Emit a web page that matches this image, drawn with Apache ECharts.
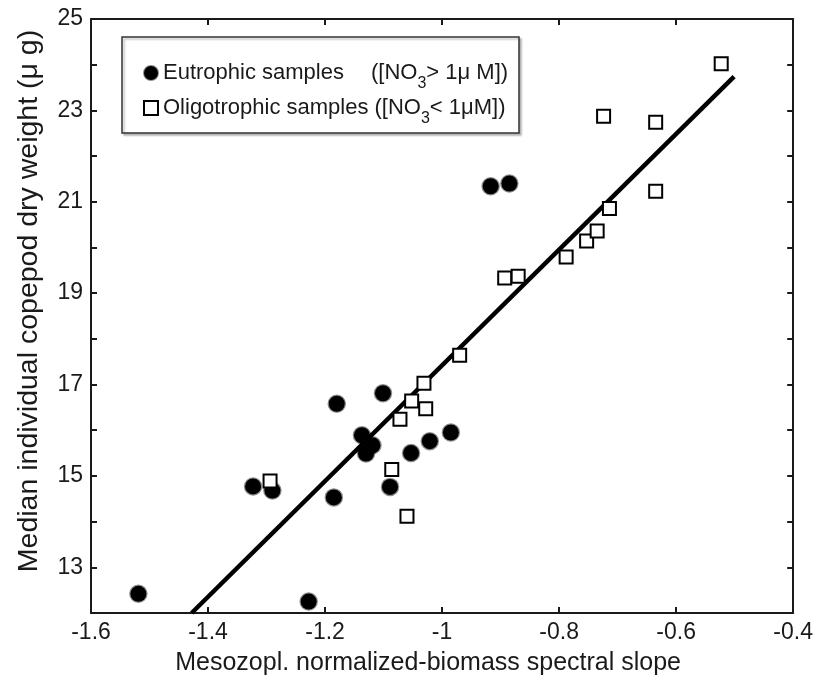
<!DOCTYPE html>
<html>
<head>
<meta charset="utf-8">
<script src="https://cdn.jsdelivr.net/npm/echarts@6/dist/echarts.min.js"></script>
<style>
  html, body { margin: 0; padding: 0; background: #fff; }
  #grafico { width: 816px; height: 683px; }
</style>
</head>
<body>
<div id="grafico"></div>
<script>
// datos: [pendiente espectral, peso seco (ug)]
const eutrophic = [
  [-1.519, 12.42], [-1.323, 14.77], [-1.290, 14.68], [-1.228, 12.25],
  [-1.185, 14.53], [-1.180, 16.58], [-1.137, 15.89], [-1.119, 15.67],
  [-1.130, 15.49], [-1.101, 16.81], [-1.089, 14.76], [-1.053, 15.50],
  [-1.021, 15.76], [-0.985, 15.95], [-0.917, 21.34], [-0.885, 21.40]
]
const oligotrophic = [
  [-1.294, 14.89], [-1.086, 15.14], [-1.072, 16.24], [-1.052, 16.64],
  [-1.028, 16.47], [-1.031, 17.03], [-1.060, 14.12], [-0.970, 17.64],
  [-0.893, 19.33], [-0.870, 19.37], [-0.788, 19.79], [-0.753, 20.14],
  [-0.735, 20.36], [-0.714, 20.85], [-0.724, 22.87], [-0.635, 22.74],
  [-0.635, 21.23], [-0.523, 24.02]
]
// recta de regresion (extremos leidos)
const fitLine = [[-1.428, 12.0], [-0.501, 23.74]]

const xTickLabels = ['-1.6', '-1.4', '-1.2', '-1', '-0.8', '-0.6', '-0.4']
const yLabelValues = [13, 15, 17, 19, 21, 23, 25]

const font = "'Liberation Sans', Arial, sans-serif"
const ink = '#1a1a1a'

const chart = echarts.init(document.getElementById('grafico'))

const axisBase = {
  axisLine: { lineStyle: { color: ink, width: 2 } },
  axisTick: { inside: true, length: 6, lineStyle: { color: ink, width: 2 } },
  splitLine: { show: false }
}

let option = {
  backgroundColor: '#fff',
  animation: false,
  grid: { left: 91, right: 21, top: 19, bottom: 70 },
  graphic: [
    {
      type: 'rect',
      z: 0,
      shape: { x: 122, y: 37, width: 397, height: 96 },
      style: {
        fill: '#fff', stroke: '#333', lineWidth: 1.5,
        shadowColor: 'rgba(0,0,0,0.25)', shadowBlur: 2, shadowOffsetX: 2, shadowOffsetY: 2
      }
    }
  ],
  legend: {
    orient: 'vertical',
    left: 143,
    top: 54,
    padding: 0,
    itemWidth: 14,
    itemHeight: 14,
    itemGap: -3,
    itemTextGap: 13,
    z: 5,
    data: ['Eutrophic', 'Oligotrophic'],
    formatter: function (name) {
      if (name === 'Eutrophic') {
        return '{a|Eutrophic samples}{b|([NO}{s|3}{b|> 1μ M])}'
      }
      return '{b|Oligotrophic samples ([NO}{s|3}{b|< 1μM])}'
    },
    textStyle: {
      fontFamily: font,
      color: ink,
      rich: {
        a: { fontFamily: font, fontSize: 22, color: ink, width: 208, lineHeight: 24 },
        b: { fontFamily: font, fontSize: 22, color: ink, lineHeight: 24 },
        s: { fontFamily: font, fontSize: 16, color: ink, lineHeight: 16, padding: [22, 0, 0, 0] }
      }
    }
  },
  xAxis: [
    Object.assign({}, axisBase, {
      type: 'value',
      min: -1.6,
      max: -0.4,
      interval: 0.2,
      name: 'Mesozopl. normalized-biomass spectral slope',
      nameLocation: 'middle',
      nameGap: 38,
      nameTextStyle: { fontFamily: font, fontSize: 25, color: ink, padding: [0, 28, 0, 0] },
      axisLabel: {
        margin: 8,
        fontFamily: font,
        fontSize: 23,
        color: ink,
        formatter: (v, i) => xTickLabels[i]
      }
    }),
    Object.assign({}, axisBase, {
      type: 'value',
      position: 'top',
      min: -1.6,
      max: -0.4,
      interval: 0.2,
      axisLabel: { show: false }
    })
  ],
  yAxis: [
    Object.assign({}, axisBase, {
      type: 'value',
      min: 12,
      max: 25,
      interval: 1,
      name: 'Median individual copepod dry weight (μ g)',
      nameLocation: 'middle',
      nameGap: 47,
      nameTextStyle: { fontFamily: font, fontSize: 28.5, color: ink, padding: [0, 0, 0, 30] },
      axisLabel: {
        margin: 8,
        fontFamily: font,
        fontSize: 23,
        color: ink,
        formatter: v => (yLabelValues.indexOf(v) >= 0 ? String(v) : '')
      }
    }),
    Object.assign({}, axisBase, {
      type: 'value',
      position: 'right',
      min: 12,
      max: 25,
      interval: 1,
      axisLabel: { show: false }
    })
  ],
  series: [
    {
      name: 'Fit',
      type: 'line',
      data: fitLine,
      symbol: 'none',
      silent: true,
      z: 2,
      lineStyle: { color: '#000', width: 4.5 }
    },
    {
      name: 'Eutrophic',
      type: 'scatter',
      data: eutrophic,
      symbol: 'circle',
      symbolSize: 16,
      z: 3,
      itemStyle: { color: '#000', opacity: 1, borderColor: 'rgba(0,0,0,0.45)', borderWidth: 2.5 }
    },
    {
      name: 'Oligotrophic',
      type: 'scatter',
      data: oligotrophic,
      symbol: 'rect',
      symbolSize: 13,
      z: 4,
      itemStyle: { color: '#fff', opacity: 1, borderColor: '#000', borderWidth: 2 }
    }
  ]
}

chart.setOption(option)
</script>
</body>
</html>
